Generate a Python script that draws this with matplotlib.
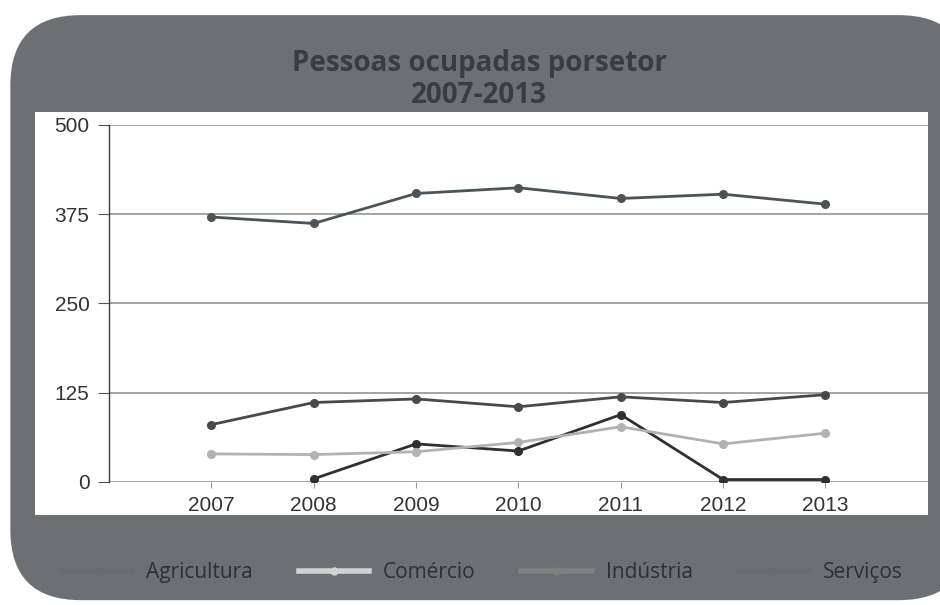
import numpy as np
import matplotlib
matplotlib.use("Agg")
from matplotlib import pyplot as plt
from matplotlib.patches import FancyBboxPatch, Rectangle
from matplotlib.lines import Line2D

years = ["2007", "2008", "2009", "2010", "2011", "2012", "2013"]
agricultura = [np.nan, 4, 53, 43, 94, 3, 3]
comercio = [39, 38, 42, 55, 77, 53, 68]
industria = [80, 111, 116, 105, 119, 111, 122]
servicos = [371, 362, 404, 412, 397, 403, 389]

series_names = ["Agricultura", "Comércio", "Indústria", "Serviços"]
series_values = [agricultura, comercio, industria, servicos]
line_colors = ["#2f3032", "#b2b2b2", "#47494b", "#4d5357"]
legend_colors = ["#686b6f", "#d2d2d2", "#808080", "#686b6f"]

yticks = [0, 125, 250, 375, 500]

fig = plt.figure(figsize=(9.4, 6.05), dpi=100)
fig.patch.set_facecolor("white")

# gray rounded frame behind the chart
frame = FancyBboxPatch((0.011, 0.008), 1.02, 0.967,
                       boxstyle="round,pad=0,rounding_size=0.075",
                       transform=fig.transFigure, facecolor="#6c6f74",
                       edgecolor="none", mutation_aspect=940 / 605, zorder=0)
fig.patches.append(frame)

# white chart area
fig.patches.append(Rectangle((0.037, 0.149), 0.95, 0.666, transform=fig.transFigure,
                             facecolor="white", edgecolor="none", zorder=1))

fig.text(0.51, 0.869, "Pessoas ocupadas porsetor\n2007-2013", ha="center", va="center",
         fontsize=20, fontweight="bold", family="Open Sans", color="#393c40",
         linespacing=1.15)

ax = fig.add_axes([0.116, 0.2038, 0.871, 0.5896], zorder=2)
ax.set_facecolor("none")
x = np.arange(len(years))

handles = []
for name, vals, c, lc in zip(series_names, series_values, line_colors, legend_colors):
    ax.plot(x, vals, color=c, lw=2.0, marker="o", ms=5.5, mec=c, mfc=c, zorder=3)
    handles.append(Line2D([0], [0], color=lc, lw=4, marker="o", ms=5, mfc=lc, mec=lc))

ax.set_xlim(-1, 7)
ax.set_ylim(0, 500)
ax.set_yticks(yticks)
ax.set_xticks(x)
ax.set_xticklabels(years)
ax.yaxis.grid(True, color="#8a8a8a", lw=1.1)
ax.set_axisbelow(True)
for s in ["top", "right", "bottom"]:
    ax.spines[s].set_visible(False)
ax.spines["left"].set_color("#3a3a3a")
ax.spines["left"].set_linewidth(1.0)
ax.tick_params(axis="y", length=8, color="#555555", pad=6)
ax.tick_params(axis="x", length=4, color="#999999", pad=6)
for lab in ax.get_xticklabels() + ax.get_yticklabels():
    lab.set_family("Liberation Sans")
    lab.set_fontsize(15)
    lab.set_color("#333333")

leg = fig.legend(handles, series_names, loc="center", bbox_to_anchor=(0.513, 0.053),
                 ncol=4, frameon=False, handlelength=3.4, handletextpad=0.65,
                 columnspacing=2.2, prop={"family": "Open Sans", "size": 15})
for t in leg.get_texts():
    t.set_color("#2e3134")

fig.savefig("out.png", dpi=100, facecolor=fig.get_facecolor())
